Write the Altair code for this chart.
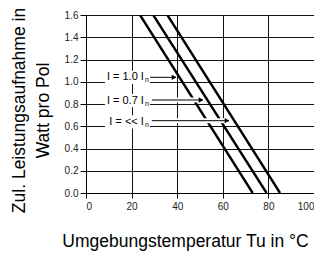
import altair as alt
import pandas as pd

# --- data ---
series = ["I = 1.0 In", "I = 0.7 In", "I = << In"]
x_at_top = [23.7, 29.5, 35.7]      # temperature (°C) where each curve reaches 1.6 W
x_at_zero = [73.1, 79.2, 85.1]     # temperature (°C) where each curve reaches 0 W
y_top = 1.6
y_zero = 0.0

label_main = ["I = 1.0 I", "I = 0.7 I", "I = << I"]
label_sub = ["n", "n", "n"]
label_y = [1.04, 0.83, 0.64]
label_text_end = [25.4, 25.4, 25.4]
label_box_x1 = [8.3, 8.3, 8.3]
label_box_x2 = [28.1, 28.1, 28.1]
label_box_h = 0.06

arrow_x1 = [28.1, 28.9, 28.9]
arrow_x2 = [39.5, 51.3, 62.7]
arrow_y = [1.04, 0.836, 0.65]

x_ticks = [0, 20, 40, 60, 80, 100]
y_ticks = [0.0, 0.2, 0.4, 0.6, 0.8, 1.0, 1.2, 1.4, 1.6]

# --- tables ---
rows = []
for s, xt, xz in zip(series, x_at_top, x_at_zero):
    rows.append({"series": s, "x": xt, "y": y_top, "o": 0})
    rows.append({"series": s, "x": xz, "y": y_zero, "o": 1})
lines_df = pd.DataFrame(rows)

labels_df = pd.DataFrame({
    "main": label_main, "sub": label_sub, "y": label_y,
    "xe": label_text_end,
    "bx1": label_box_x1, "bx2": label_box_x2,
    "by1": [v - label_box_h for v in label_y],
    "by2": [v + label_box_h for v in label_y],
})
arrows_df = pd.DataFrame({"x1": arrow_x1, "x2": arrow_x2, "y": arrow_y})

xs = alt.Scale(domain=[0, 100], nice=False)
ys = alt.Scale(domain=[0, 1.6], nice=False)

FONT = "Liberation Sans"

x_axis = alt.Axis(
    values=x_ticks, format="d", title="Umgebungstemperatur Tu in °C",
    grid=True, labelOverlap=False,
    tickSize=5, labelPadding=3,
    titleFontSize=17.5,
    titleX=99, titleY=53, titleAlign="center", titleBaseline="alphabetic",
)
y_axis = alt.Axis(
    values=y_ticks, format=".1f",
    title=["Zul. Leistungsaufnahme in", "Watt pro Pol"],
    grid=True, labelOverlap=False,
    tickSize=6, labelPadding=2,
    titleFontSize=17.5,
    titleAngle=270, titleX=-58, titleY=95, titleAlign="center",
    titleBaseline="bottom", titleLineHeight=24,
)

X = lambda f: alt.X(f, scale=xs, axis=x_axis)
Y = lambda f: alt.Y(f, scale=ys, axis=y_axis)

lines = alt.Chart(lines_df).mark_line(color="#000", strokeWidth=2.4, clip=True).encode(
    x=X("x:Q"), y=Y("y:Q"), detail="series:N", order="o:Q",
)
boxes = alt.Chart(labels_df).mark_rect(color="#fff").encode(
    x=X("bx1:Q"), x2="bx2:Q", y=Y("by1:Q"), y2="by2:Q",
)
texts = alt.Chart(labels_df).mark_text(
    align="right", baseline="middle", font=FONT, fontSize=11, color="#000"
).encode(x=X("xe:Q"), y=Y("y:Q"), text="main:N")
subs = alt.Chart(labels_df).mark_text(
    align="left", baseline="middle", font=FONT, fontSize=7, color="#000", dx=1, dy=3
).encode(x=X("xe:Q"), y=Y("y:Q"), text="sub:N")
halo = alt.Chart(arrows_df).mark_rule(color="#fff", strokeWidth=5).encode(
    x=X("x1:Q"), x2="x2:Q", y=Y("y:Q")
)
arrow = alt.Chart(arrows_df).mark_rule(color="#000", strokeWidth=1).encode(
    x=X("x1:Q"), x2="x2:Q", y=Y("y:Q")
)
heads = alt.Chart(arrows_df).mark_point(
    shape="triangle-right", filled=True, color="#000", size=28, opacity=1, xOffset=-2
).encode(x=X("x2:Q"), y=Y("y:Q"))

chart = alt.layer(lines, boxes, texts, subs, halo, arrow, heads).properties(
    width=228, height=178,
    autosize=alt.AutoSizeParams(type="none"),
    padding={"left": 78, "top": 7, "right": 0, "bottom": 58},
).configure(background="#fff").configure_view(
    stroke="#000", strokeWidth=1
).configure_axis(
    grid=True, gridColor="#111", gridOpacity=1, gridWidth=1,
    domain=True, domainColor="#000", tickColor="#000",
    labelFont=FONT, labelFontSize=10, labelColor="#222",
    titleFont=FONT, titleFontWeight="normal", titleColor="#000",
)

chart.save("out.html", embed_options={"renderer": "svg", "actions": False})
